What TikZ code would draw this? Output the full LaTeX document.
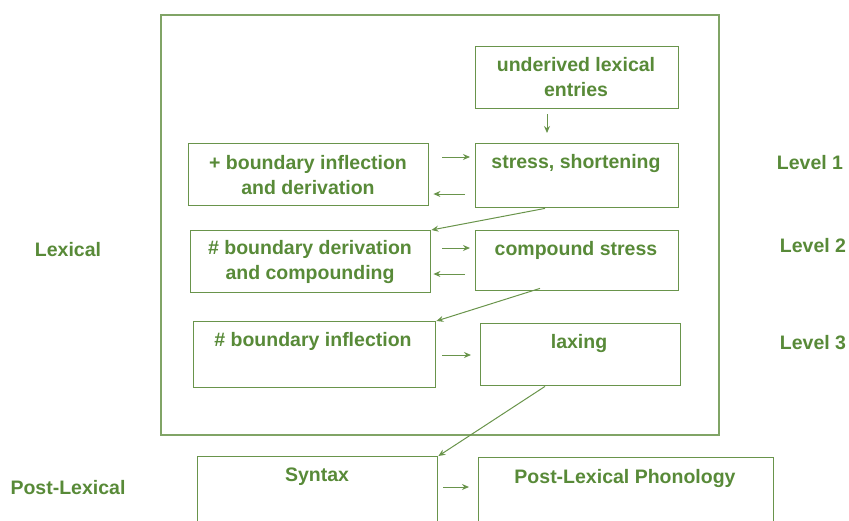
\documentclass[tikz,border=0pt]{standalone}
\usepackage{fontspec}
\setmainfont{Liberation Sans}
\usetikzlibrary{arrows.meta,calc}
\definecolor{gtext}{RGB}{88,138,56}
\definecolor{gline}{RGB}{105,148,75}
\begin{document}
\begin{tikzpicture}[x=1pt,y=-1pt,
  box/.style={draw=gline,line width=1.4pt,anchor=north west,inner sep=0pt},
  outer/.style={draw=gline!85,line width=2.2pt,anchor=north west,inner sep=0pt},
  lbl/.style={text=gtext,font=\fontsize{19.5}{25}\selectfont\bfseries,align=center,inner sep=0pt},
  arr/.style={draw=gline,line width=1pt,-{Stealth[length=7pt,width=6pt]}}]
\useasboundingbox (0,0) rectangle (849,520);
\node[outer,minimum width=558pt,minimum height=420pt] (lex) at (160,14) {};
% boxes
\node[box,minimum width=203pt,minimum height=62pt] (und) at (475,46) {};
\node[box,minimum width=240pt,minimum height=62pt] (plus) at (188,143) {};
\node[box,minimum width=203pt,minimum height=64pt] (str) at (475,143) {};
\node[box,minimum width=240pt,minimum height=62pt] (der) at (190,230) {};
\node[box,minimum width=203pt,minimum height=60pt] (cmp) at (475,230) {};
\node[box,minimum width=242pt,minimum height=66pt] (inf) at (193,321) {};
\node[box,minimum width=200pt,minimum height=62pt] (lax) at (480,323) {};
\node[box,minimum width=240pt,minimum height=70pt] (syn) at (197,456) {};
\node[box,minimum width=295pt,minimum height=70pt] (plp) at (478,457) {};
% texts
\node[lbl] (tund) at (576,77) {underived lexical\\entries};
\node[lbl] (tplus) at (308,175) {+ boundary inflection\\and derivation};
\node[lbl] (tstr) at (576,163) {stress, shortening};
\node[lbl] (tder) at (310,262) {\# boundary derivation\\and compounding};
\node[lbl] (tcmp) at (576,250) {compound stress};
\node[lbl] (tinf) at (313,341) {\# boundary inflection};
\node[lbl] (tlax) at (579,343) {laxing};
\node[lbl] (tsyn) at (317,477) {Syntax};
\node[lbl] (tplp) at (625,478) {Post-Lexical Phonology};
\node[lbl] (lexl) at (68,250) {Lexical};
\node[lbl] (plex) at (68,488) {Post-Lexical};
\node[lbl] (l1) at (810,163) {Level 1};
\node[lbl] (l2) at (813,246) {Level 2};
\node[lbl] (l3) at (813,343) {Level 3};
% arrows
\draw[arr] ([yshift=-5pt]und.south -| 547,0) -- ([yshift=10pt]str.north -| 547,0);
\draw[arr] ([xshift=13pt]plus.east |- 0,157) -- ([xshift=-5pt]str.west |- 0,157);
\draw[arr] ([xshift=-10pt]str.west |- 0,194) -- ([xshift=4pt]plus.east |- 0,194);
\draw[arr] ([xshift=11pt]der.east |- 0,248) -- ([xshift=-5pt]cmp.west |- 0,248);
\draw[arr] ([xshift=-10pt]cmp.west |- 0,274) -- ([xshift=2pt]der.east |- 0,274);
\draw[arr] ([xshift=6pt]inf.east |- 0,355) -- ([xshift=-9pt]lax.west |- 0,355);
\draw[arr] (str.south -| 545,0) -- (der.north east);
\draw[arr] ([yshift=3pt]cmp.south -| 540,0) -- (inf.north east);
\draw[arr] (lax.south -| 545,0) -- (syn.north east);
\draw[arr] ([xshift=5pt]syn.east |- 0,487) -- ([xshift=-9pt]plp.west |- 0,487);
\end{tikzpicture}
\end{document}
